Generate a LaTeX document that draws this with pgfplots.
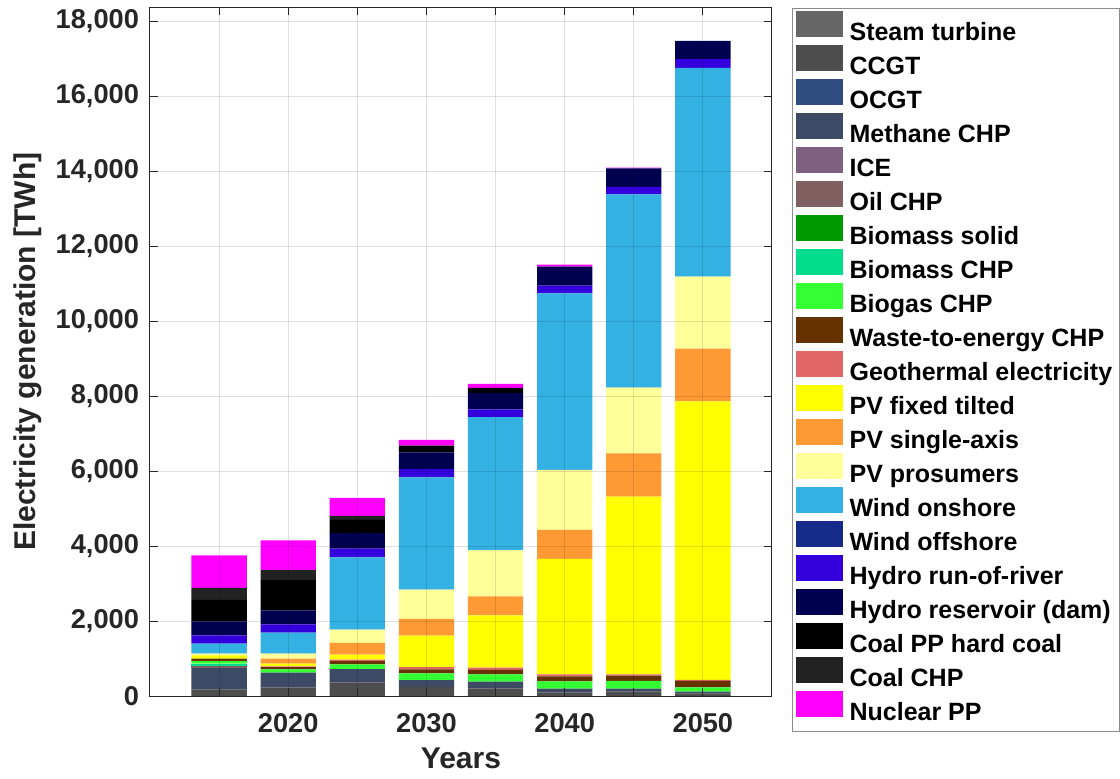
\documentclass[border=0pt]{standalone}
\usepackage{pgfplots}
\usepackage{pgfplotstable}
\usepackage{fontspec}
\setmainfont{Liberation Sans}
\pgfplotsset{compat=1.18}
\definecolor{axgray}{HTML}{262626}
\definecolor{leggray}{HTML}{8C8C8C}
\definecolor{cST}{HTML}{666666}
\definecolor{cCCGT}{HTML}{4D4D4D}
\definecolor{cOCGT}{HTML}{314C7E}
\definecolor{cMCHP}{HTML}{3D4A66}
\definecolor{cICE}{HTML}{806080}
\definecolor{cOIL}{HTML}{806060}
\definecolor{cBSOL}{HTML}{009900}
\definecolor{cBCHP}{HTML}{00DD8C}
\definecolor{cBIOGAS}{HTML}{33FF33}
\definecolor{cWASTE}{HTML}{663300}
\definecolor{cGEO}{HTML}{E06666}
\definecolor{cPVF}{HTML}{FFFF00}
\definecolor{cPVS}{HTML}{FF9933}
\definecolor{cPVP}{HTML}{FFFF99}
\definecolor{cWON}{HTML}{33B1E2}
\definecolor{cWOFF}{HTML}{162A8A}
\definecolor{cROR}{HTML}{3300DD}
\definecolor{cRES}{HTML}{000050}
\definecolor{cCOAL}{HTML}{000000}
\definecolor{cCCHP}{HTML}{222222}
\definecolor{cNUC}{HTML}{FF00FF}

\pgfplotstableread{
year st ccgt ocgt mchp ice oil bsol bchp biogas waste geo pvf pvs pvp won woff ror res coal cchp nuc
2015 0 178 0 569 0 53 0 62 71 62 0 89 0 44 267 0 222 373 578 320 862
2020 0 231 0 391 0 0 0 0 89 60 20 71 133 133 560 0 222 373 809 267 791
2025 0 356 0 364 0 0 0 0 124 89 40 133 311 356 1929 0 231 415 350 110 480
2030 0 240 0 187 0 0 0 0 178 107 60 840 444 782 2996 0 222 444 178 0 160
2035 0 196 0 187 0 0 0 0 196 116 62 1396 507 1236 3547 0 204 444 133 0 107
2040 0 100 0 96 0 0 0 0 196 133 53 3084 773 1600 4711 0 204 507 0 0 53
2045 0 120 0 77 0 0 0 0 208 139 35 4740 1156 1757 5156 0 197 497 0 0 20
2050 0 70 0 46 0 0 0 0 116 173 23 7433 1410 1919 5572 0 231 486 0 0 0
}\data

\begin{document}
\begin{tikzpicture}
\begin{axis}[
  name=ax, at={(0,0)}, anchor=south west,
  scale only axis, width=311pt, height=344.3pt,
  ybar stacked, bar width=4,
  xmin=2010, xmax=2055, ymin=0, ymax=18375,
  xtick={2015,2020,...,2050},
  xticklabels={,2020,,2030,,2040,,2050},
  ytick={0,2000,...,18000},
  yticklabels={0,{2,000},{4,000},{6,000},{8,000},{10,000},{12,000},{14,000},{16,000},{18,000}},
  grid=major, grid style={black, opacity=0.12, line width=0.5pt},
  axis on top, tick align=inside, major tick length=4pt,
  axis line style={color=axgray, line width=0.5pt},
  tick style={color=axgray, line width=0.5pt},
  ticklabel style={font=\bfseries\fontsize{13.6}{14}\selectfont, text=axgray},
  xticklabel style={yshift=-5pt},
  yticklabel style={xshift=-2pt},
  xlabel={Years}, ylabel={Electricity generation [TWh]},
  label style={font=\bfseries\fontsize{15}{17}\selectfont, text=axgray},
  xlabel style={yshift=-1pt},
  legend style={at={(1,1)}, anchor=north west, xshift=10pt, yshift=-0.3pt,
    draw=leggray, line width=0.6pt, inner sep=1pt, inner xsep=1.5pt, row sep=-2.3pt,
    font=\bfseries\fontsize{12.5}{14}\selectfont,
    nodes={inner sep=2pt, text height=10.8pt, text depth=2.2pt}},
  legend cell align=left,
  legend image code/.code={\fill[#1] (0pt,-2.2pt) rectangle (23.5pt,10.8pt); \path (25pt,0pt);},
  every axis plot/.append style={draw=none},
]
\addplot+[fill=cST] table[x=year,y=st]{\data}; \addlegendentry{Steam turbine}
\addplot+[fill=cCCGT] table[x=year,y=ccgt]{\data}; \addlegendentry{CCGT}
\addplot+[fill=cOCGT] table[x=year,y=ocgt]{\data}; \addlegendentry{OCGT}
\addplot+[fill=cMCHP] table[x=year,y=mchp]{\data}; \addlegendentry{Methane CHP}
\addplot+[fill=cICE] table[x=year,y=ice]{\data}; \addlegendentry{ICE}
\addplot+[fill=cOIL] table[x=year,y=oil]{\data}; \addlegendentry{Oil CHP}
\addplot+[fill=cBSOL] table[x=year,y=bsol]{\data}; \addlegendentry{Biomass solid}
\addplot+[fill=cBCHP] table[x=year,y=bchp]{\data}; \addlegendentry{Biomass CHP}
\addplot+[fill=cBIOGAS] table[x=year,y=biogas]{\data}; \addlegendentry{Biogas CHP}
\addplot+[fill=cWASTE] table[x=year,y=waste]{\data}; \addlegendentry{Waste-to-energy CHP}
\addplot+[fill=cGEO] table[x=year,y=geo]{\data}; \addlegendentry{Geothermal electricity}
\addplot+[fill=cPVF] table[x=year,y=pvf]{\data}; \addlegendentry{PV fixed tilted}
\addplot+[fill=cPVS] table[x=year,y=pvs]{\data}; \addlegendentry{PV single-axis}
\addplot+[fill=cPVP] table[x=year,y=pvp]{\data}; \addlegendentry{PV prosumers}
\addplot+[fill=cWON] table[x=year,y=won]{\data}; \addlegendentry{Wind onshore}
\addplot+[fill=cWOFF] table[x=year,y=woff]{\data}; \addlegendentry{Wind offshore}
\addplot+[fill=cROR] table[x=year,y=ror]{\data}; \addlegendentry{Hydro run-of-river}
\addplot+[fill=cRES] table[x=year,y=res]{\data}; \addlegendentry{Hydro reservoir (dam)}
\addplot+[fill=cCOAL] table[x=year,y=coal]{\data}; \addlegendentry{Coal PP hard coal}
\addplot+[fill=cCCHP] table[x=year,y=cchp]{\data}; \addlegendentry{Coal CHP}
\addplot+[fill=cNUC] table[x=year,y=nuc]{\data}; \addlegendentry{Nuclear PP}
\end{axis}
\pgfresetboundingbox
\path (ax.south west) ++(-75pt,-41pt) rectangle ++(560pt,389pt);
\end{tikzpicture}
\end{document}
